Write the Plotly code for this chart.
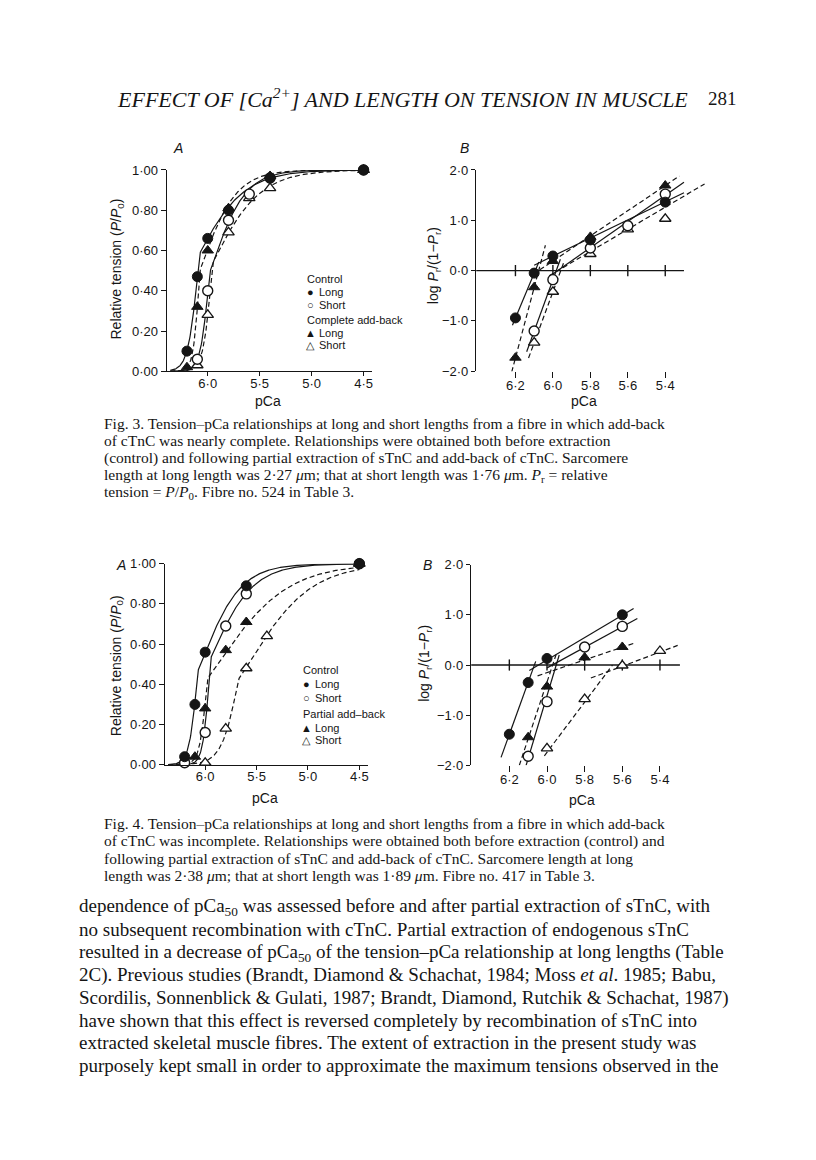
import numpy as np
import plotly.graph_objects as go

# The page is drawn inside the browser's default 8px body margin,
# so the figure is 800x1144 and page coordinates are shifted by 8px.
PAGE_OFF = 8
W, H = 800, 1144
INK = "#151515"
SANS = "Liberation Sans, Arial, Helvetica, sans-serif"
SERIF = "Liberation Serif, Times New Roman, serif"

# ---------------- data read from the page ----------------
# Fig. 3A  relative tension (P/P0) vs pCa
f3a_pca_ctrl_long = [6.2, 6.1, 6.0, 5.8, 5.4, 4.5]
f3a_p_ctrl_long = [0.10, 0.47, 0.66, 0.80, 0.96, 1.00]
f3a_pca_ctrl_short = [6.1, 6.0, 5.8, 5.6, 5.4, 4.5]
f3a_p_ctrl_short = [0.06, 0.40, 0.75, 0.88, 0.96, 1.00]
f3a_pca_add_long = [6.2, 6.1, 6.0, 5.8, 5.4, 4.5]
f3a_p_add_long = [0.02, 0.32, 0.60, 0.81, 0.97, 1.00]
f3a_pca_add_short = [6.1, 6.0, 5.8, 5.6, 5.4, 4.5]
f3a_p_add_short = [0.03, 0.28, 0.69, 0.86, 0.91, 1.00]

# Fig. 3B  log Pr/(1-Pr) vs pCa
f3b_pca_ctrl_long = [6.2, 6.1, 6.0, 5.8, 5.4]
f3b_log_ctrl_long = [-0.94, -0.05, 0.29, 0.61, 1.36]
f3b_pca_ctrl_short = [6.1, 6.0, 5.8, 5.6, 5.4]
f3b_log_ctrl_short = [-1.20, -0.18, 0.45, 0.89, 1.52]
f3b_pca_add_long = [6.2, 6.1, 6.0, 5.8, 5.4]
f3b_log_add_long = [-1.73, -0.33, 0.19, 0.67, 1.69]
f3b_pca_add_short = [6.1, 6.0, 5.8, 5.6, 5.4]
f3b_log_add_short = [-1.43, -0.42, 0.33, 0.82, 1.03]

# Fig. 4A
f4a_pca_ctrl_long = [6.2, 6.1, 6.0, 5.6, 4.5]
f4a_p_ctrl_long = [0.04, 0.30, 0.56, 0.89, 1.00]
f4a_pca_ctrl_short = [6.2, 6.0, 5.8, 5.6, 4.5]
f4a_p_ctrl_short = [0.01, 0.16, 0.69, 0.85, 1.00]
f4a_pca_add_long = [6.1, 6.0, 5.8, 5.6, 4.5]
f4a_p_add_long = [0.04, 0.28, 0.57, 0.71, 1.00]
f4a_pca_add_short = [6.0, 5.8, 5.6, 5.4, 4.5]
f4a_p_add_short = [0.01, 0.18, 0.48, 0.64, 1.00]

# Fig. 4B
f4b_pca_ctrl_long = [6.2, 6.1, 6.0, 5.6]
f4b_log_ctrl_long = [-1.38, -0.35, 0.13, 1.00]
f4b_pca_ctrl_short = [6.1, 6.0, 5.8, 5.6]
f4b_log_ctrl_short = [-1.82, -0.73, 0.36, 0.77]
f4b_pca_add_long = [6.1, 6.0, 5.8, 5.6]
f4b_log_add_long = [-1.44, -0.43, 0.15, 0.36]
f4b_pca_add_short = [6.0, 5.8, 5.6, 5.4]
f4b_log_add_short = [-1.66, -0.68, -0.01, 0.28]

# fitted Hill lines: [slope n, pCa at log=0, pCa start, pCa end] (steep, shallow)
f3_fit_ctrl_long = [[8.9, 6.094, 6.216, 6.075], [1.8, 6.16, 6.10, 5.30]]
f3_fit_ctrl_short = [[10.2, 5.982, 6.14, 5.96], [2.6, 5.975, 6.01, 5.30]]
f3_fit_add_long = [[14.0, 6.076, 6.22, 6.04], [2.5, 6.076, 6.07, 5.325]]
f3_fit_add_short = [[10.1, 5.958, 6.13, 5.94], [2.2, 5.973, 6.02, 5.19]]
f3a_curve_add_short = [[10.1, 5.958], [1.8, 5.99]]

f4_fit_ctrl_long = [[10.4, 6.067, 6.244, 6.06], [2.23, 6.045, 6.094, 5.54]]
f4_fit_ctrl_short = [[12.5, 5.951, 6.111, 5.935], [2.05, 5.972, 6.00, 5.52]]
f4_fit_add_long = [[11.3, 5.97, 6.147, 5.952], [1.27, 5.88, 6.05, 5.528]]
f4_fit_add_short = [[5.0, 5.652, 6.014, 5.652], [1.41, 5.583, 5.767, 5.306]]

a_ticks = [1.0, 0.8, 0.6, 0.4, 0.2, 0.0]
a_ticklabels = ["1·00", "0·80", "0·60", "0·40", "0·20", "0·00"]
a_xticks = [6.0, 5.5, 5.0, 4.5]
a_xticklabels = ["6·0", "5·5", "5·0", "4·5"]
b_ticks = [2.0, 1.0, 0.0, -1.0, -2.0]
b_ticklabels = ["2·0", "1·0", "0·0", "−1·0", "−2·0"]
b_xticks = [6.2, 6.0, 5.8, 5.6, 5.4]
b_xticklabels = ["6·2", "6·0", "5·8", "5·6", "5·4"]

# ---------------- helpers ----------------
def fx(px):
    return (px - PAGE_OFF) / W


def fy(py):
    return 1 - (py - PAGE_OFF) / H


def hill_curve(lines, pca):
    (n1, k1), (n2, k2) = lines[0][:2], lines[1][:2]
    logit = np.minimum(n1 * (k1 - pca), n2 * (k2 - pca))
    return 1.0 / (1.0 + 10 ** (-logit))


fig = go.Figure()

markers = {
    "cl": dict(symbol="circle", size=10, color=INK, line=dict(color=INK, width=1)),
    "cs": dict(symbol="circle", size=10, color="white", line=dict(color=INK, width=1.4)),
    "al": dict(symbol="triangle-up", size=10, color=INK, line=dict(color=INK, width=1)),
    "as": dict(symbol="triangle-up", size=10, color="white", line=dict(color=INK, width=1.3)),
}
dash_of = {"cl": "solid", "cs": "solid", "al": "5px,3px", "as": "5px,3px"}

grid = np.linspace(6.36, 4.5, 400)

fig_ranges = {"x": [6.394, 4.423], "x2": [6.41, 5.17], "x3": [6.393, 4.42], "x4": [6.403, 5.28]}


def add_panel_a(xa, ya, series, curves):
    for key in series:
        fig.add_trace(go.Scatter(x=grid, y=hill_curve(curves[key], grid), mode="lines",
                                 line=dict(color=INK, width=1.2, dash=dash_of[key]),
                                 xaxis=xa, yaxis=ya, showlegend=False, hoverinfo="skip"))
    for key in ["as", "al", "cs", "cl"]:
        xs, ys = series[key]
        fig.add_trace(go.Scatter(x=xs, y=ys, mode="markers", marker=markers[key],
                                 xaxis=xa, yaxis=ya, showlegend=False, cliponaxis=False))


def add_panel_b(xa, ya, series, fits, zero_end):
    fig.add_shape(type="line", xref=xa, yref=ya, x0=fig_ranges[xa][0], x1=zero_end, y0=0, y1=0,
                  line=dict(color=INK, width=1.3), layer="below")
    for key, segs in fits.items():
        for n, k, x0, x1 in segs:
            xs = np.array([x0, x1])
            fig.add_trace(go.Scatter(x=xs, y=n * (k - xs), mode="lines",
                                     line=dict(color=INK, width=1.2, dash=dash_of[key]),
                                     xaxis=xa, yaxis=ya, showlegend=False, hoverinfo="skip"))
    # crossing ticks on the zero line
    fig.add_trace(go.Scatter(x=b_xticks, y=[0] * len(b_xticks), mode="markers",
                             marker=dict(symbol="line-ns", size=8, line=dict(color=INK, width=1.4)),
                             xaxis=xa, yaxis=ya, showlegend=False, cliponaxis=False, hoverinfo="skip"))
    for key in ["as", "al", "cs", "cl"]:
        xs, ys = series[key]
        fig.add_trace(go.Scatter(x=xs, y=ys, mode="markers", marker=markers[key],
                                 xaxis=xa, yaxis=ya, showlegend=False, cliponaxis=False))


add_panel_a("x", "y",
            {"cl": (f3a_pca_ctrl_long, f3a_p_ctrl_long), "cs": (f3a_pca_ctrl_short, f3a_p_ctrl_short),
             "al": (f3a_pca_add_long, f3a_p_add_long), "as": (f3a_pca_add_short, f3a_p_add_short)},
            {"cl": f3_fit_ctrl_long, "cs": f3_fit_ctrl_short, "al": f3_fit_add_long, "as": f3a_curve_add_short})
add_panel_b("x2", "y2",
            {"cl": (f3b_pca_ctrl_long, f3b_log_ctrl_long), "cs": (f3b_pca_ctrl_short, f3b_log_ctrl_short),
             "al": (f3b_pca_add_long, f3b_log_add_long), "as": (f3b_pca_add_short, f3b_log_add_short)},
            {"cl": f3_fit_ctrl_long, "cs": f3_fit_ctrl_short, "al": f3_fit_add_long, "as": f3_fit_add_short},
            5.30)
add_panel_a("x3", "y3",
            {"cl": (f4a_pca_ctrl_long, f4a_p_ctrl_long), "cs": (f4a_pca_ctrl_short, f4a_p_ctrl_short),
             "al": (f4a_pca_add_long, f4a_p_add_long), "as": (f4a_pca_add_short, f4a_p_add_short)},
            {"cl": f4_fit_ctrl_long, "cs": f4_fit_ctrl_short, "al": f4_fit_add_long, "as": f4_fit_add_short})
add_panel_b("x4", "y4",
            {"cl": (f4b_pca_ctrl_long, f4b_log_ctrl_long), "cs": (f4b_pca_ctrl_short, f4b_log_ctrl_short),
             "al": (f4b_pca_add_long, f4b_log_add_long), "as": (f4b_pca_add_short, f4b_log_add_short)},
            {"cl": f4_fit_ctrl_long, "cs": f4_fit_ctrl_short, "al": f4_fit_add_long, "as": f4_fit_add_short},
            5.294)

tickfont = dict(family=SANS, size=13, color=INK)


def xaxis_a(dom, rng, anchor):
    return dict(domain=[fx(dom[0]), fx(dom[1])], range=rng, anchor=anchor, tickvals=a_xticks,
                ticktext=a_xticklabels, ticks="outside", ticklen=4, tickwidth=1.3, tickcolor=INK,
                ticklabelstandoff=-4,
                showline=True, linecolor=INK, linewidth=1.3, showgrid=False, zeroline=False,
                tickfont=tickfont)


def yaxis_a(dom, anchor):
    return dict(domain=[fy(dom[1]), fy(dom[0])], range=[0, 1], anchor=anchor, tickvals=a_ticks,
                ticktext=a_ticklabels, ticks="outside", ticklen=5, tickwidth=1.3, tickcolor=INK,
                showline=True, linecolor=INK, linewidth=1.3, showgrid=False, zeroline=False,
                tickfont=tickfont)


def xaxis_b(dom, rng, anchor):
    return dict(domain=[fx(dom[0]), fx(dom[1])], range=rng, anchor=anchor, tickvals=b_xticks,
                ticktext=b_xticklabels, ticks="outside", ticklen=6, tickwidth=1.3, tickcolor=INK,
                ticklabelstandoff=-4,
                showline=False, showgrid=False, zeroline=False, tickfont=tickfont)


def yaxis_b(dom, anchor):
    return dict(domain=[fy(dom[1]), fy(dom[0])], range=[-2, 2], anchor=anchor, tickvals=b_ticks,
                ticktext=b_ticklabels, ticks="outside", ticklen=4, tickwidth=1.3, tickcolor=INK,
                showline=True, linecolor=INK, linewidth=1.3, showgrid=False, zeroline=False,
                tickfont=tickfont)


fig.update_layout(
    width=W, height=H, autosize=False,
    margin=dict(l=0, r=0, t=0, b=0),
    paper_bgcolor="white", plot_bgcolor="rgba(0,0,0,0)",
    showlegend=False,
    xaxis=xaxis_a((167, 372), fig_ranges["x"], "y"),
    yaxis=yaxis_a((165, 369), "x"),
    xaxis2=xaxis_b((476.7, 709.2), fig_ranges["x2"], "y2"),
    yaxis2=yaxis_b((165, 369), "x2"),
    xaxis3=xaxis_a((165, 368), fig_ranges["x3"], "y3"),
    yaxis3=yaxis_a((564, 767.7), "x3"),
    xaxis4=xaxis_b((471.7, 683.4), fig_ranges["x4"], "y4"),
    yaxis4=yaxis_b((565, 768.3), "x4"),
)

ann = []


def text(px, py, s, size, family=SANS, xanchor="left", angle=0):
    ann.append(dict(x=fx(px), y=fy(py), xref="paper", yref="paper", text=s, showarrow=False,
                    xanchor=xanchor, yanchor="middle", textangle=angle, borderpad=0,
                    font=dict(family=family, size=size, color=INK)))


# running head
text(116, 92, "<i>EFFECT OF [Ca<sup>2+</sup>] AND LENGTH ON TENSION IN MUSCLE</i>", 22, SERIF)
text(723, 93, "281", 19, SERIF, xanchor="center")

# panel letters
text(178, 143, "<i>A</i>", 14, SANS, "center")
text(465, 143, "<i>B</i>", 14, SANS, "center")
text(121, 565, "<i>A</i>", 14, SANS, "center")
text(428, 565, "<i>B</i>", 14, SANS, "center")

# axis titles
for cx, cy in [(117, 265), (117, 667)]:
    text(cx, cy, "Relative tension (<i>P</i>/<i>P</i><sub>0</sub>)", 14, SANS, "center", -90)
for cx, cy in [(434, 262), (426, 665)]:
    text(cx, cy, "log <i>P</i><sub>r</sub>/(1−<i>P</i><sub>r</sub>)", 14, SANS, "center", -90)
for cx, cy in [(268, 399), (585, 399), (265, 801), (583, 803)]:
    text(cx, cy, "pCa", 14, SANS, "center")

# legends (symbol + label)
leg3 = [("Control", None, 276), ("Long", "●", 289), ("Short", "○", 302),
        ("Complete add-back", None, 317), ("Long", "▲", 330), ("Short", "△", 342)]
leg4 = [("Control", None, 672), ("Long", "●", 686), ("Short", "○", 700),
        ("Partial add–back", None, 716), ("Long", "▲", 730), ("Short", "△", 743)]
for items, x0 in [(leg3, 306), (leg4, 302)]:
    for label, sym, yy in items:
        if sym is None:
            text(x0, yy, label, 11, SANS)
        else:
            text(x0 + 5, yy, sym, 11, SANS, "center")
            text(x0 + 12, yy, label, 11, SANS)

# captions
cap3 = [
    "Fig. 3. Tension–pCa relationships at long and short lengths from a fibre in which add-back",
    "of cTnC was nearly complete. Relationships were obtained both before extraction",
    "(control) and following partial extraction of sTnC and add-back of cTnC. Sarcomere",
    "length at long length was 2·27 <i>μ</i>m; that at short length was 1·76 <i>μ</i>m. <i>P</i><sub>r</sub> = relative",
    "tension = <i>P</i>/<i>P</i><sub>0</sub>. Fibre no. 524 in Table 3.",
]
for s, yy in zip(cap3, [422, 439.5, 457, 474.5, 492]):
    text(103, yy, s, 15.5, SERIF)

cap4 = [
    "Fig. 4. Tension–pCa relationships at long and short lengths from a fibre in which add-back",
    "of cTnC was incomplete. Relationships were obtained both before extraction (control) and",
    "following partial extraction of sTnC and add-back of cTnC. Sarcomere length at long",
    "length was 2·38 <i>μ</i>m; that at short length was 1·89 <i>μ</i>m. Fibre no. 417 in Table 3.",
]
for s, yy in zip(cap4, [827, 844.7, 862.3, 880]):
    text(103, yy, s, 15.5, SERIF)

body = [
    "dependence of pCa<sub>50</sub> was assessed before and after partial extraction of sTnC, with",
    "no subsequent recombination with cTnC. Partial extraction of endogenous sTnC",
    "resulted in a decrease of pCa<sub>50</sub> of the tension–pCa relationship at long lengths (Table",
    "2C). Previous studies (Brandt, Diamond & Schachat, 1984; Moss <i>et al</i>. 1985; Babu,",
    "Scordilis, Sonnenblick & Gulati, 1987; Brandt, Diamond, Rutchik & Schachat, 1987)",
    "have shown that this effect is reversed completely by recombination of sTnC into",
    "extracted skeletal muscle fibres. The extent of extraction in the present study was",
    "purposely kept small in order to approximate the maximum tensions observed in the",
]
for s, yy in zip(body, [912, 935, 958, 981, 1004, 1027, 1049, 1072]):
    text(78, yy, s, 19, SERIF)

fig.update_layout(annotations=ann)

fig.write_html("out.html", config={"displayModeBar": False})
